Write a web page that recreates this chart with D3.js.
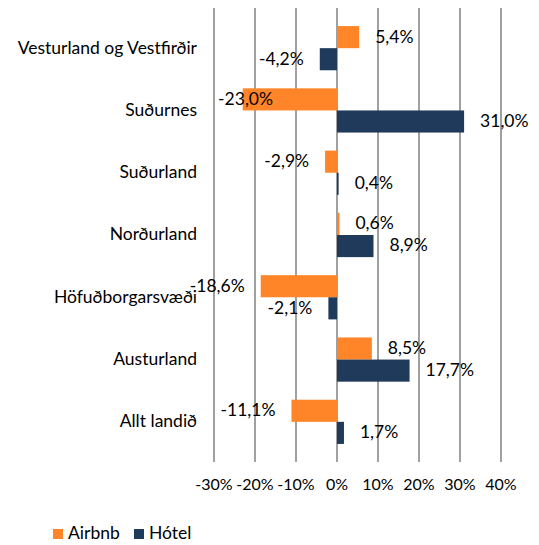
<!DOCTYPE html>
<html>
<head>
<meta charset="utf-8">
<script src="https://cdn.jsdelivr.net/npm/d3@7"></script>
<style>
  body { margin: 0; background: #fff; }
  text { font-family: Lato, "Open Sans", sans-serif; font-size: 17.5px; fill: #000; }
  .tick-label { font-size: 16px; }
</style>
</head>
<body>
<div id="chart"></div>
<script>
const regions = ["Vesturland og Vestfirðir", "Suðurnes", "Suðurland", "Norðurland",
  "Höfuðborgarsvæði", "Austurland", "Allt landið"];
const airbnb = [5.4, -23.0, -2.9, 0.6, -18.6, 8.5, -11.1];
const hotel = [-4.2, 31.0, 0.4, 8.9, -2.1, 17.7, 1.7];
const ticks = [-30, -20, -10, 0, 10, 20, 30, 40];
const seriesNames = ["Airbnb", "Hótel"];
const colors = ["#ff8528", "#1f3a5b"];

const width = 539, height = 545;
const margin = ({top: 8, right: 38, bottom: 83, left: 214});

const svg = d3.select("#chart")
  .append("svg")
  .attr("width", width)
  .attr("height", height);

let x = d3.scaleLinear()
  .domain([-30, 40])
  .range([margin.left, width - margin.right]);

let y = d3.scaleBand()
  .domain(regions)
  .range([margin.top, height - margin.bottom])
  .padding(0.29);

let sub = d3.scaleBand()
  .domain(seriesNames)
  .range([0, y.bandwidth()]);

const fmt = v => d3.format(".1f")(v).replace(".", ",").replace("\u2212", "-") + "%";

// gridlines
svg.append("g")
  .selectAll("line")
  .data(ticks)
  .join("line")
  .attr("x1", d => x(d))
  .attr("x2", d => x(d))
  .attr("y1", margin.top)
  .attr("y2", height - margin.bottom)
  .attr("stroke", "#a0a0a0")
  .attr("stroke-width", 2);

// tick labels
svg.append("g")
  .selectAll("text")
  .data(ticks)
  .join("text")
  .attr("class", "tick-label")
  .attr("x", d => x(d))
  .attr("y", height - margin.bottom + 24)
  .attr("dominant-baseline", "middle")
  .attr("text-anchor", "middle")
  .text(d => d + "%");

// category labels
svg.append("g")
  .selectAll("text")
  .data(regions)
  .join("text")
  .attr("x", margin.left - 17)
  .attr("y", d => y(d) + y.bandwidth() / 2 + 1)
  .attr("dominant-baseline", "middle")
  .attr("text-anchor", "end")
  .text(d => d);

const series = [airbnb, hotel];
series.forEach((vals, i) => {
  const rows = regions.map((r, j) => ({r, v: vals[j]}));
  const g = svg.append("g");

  g.selectAll("rect")
    .data(rows)
    .join("rect")
    .attr("x", d => x(Math.min(0, d.v)))
    .attr("width", d => Math.abs(x(d.v) - x(0)))
    .attr("y", d => y(d.r) + sub(seriesNames[i]))
    .attr("height", sub.bandwidth())
    .attr("fill", colors[i]);

  g.selectAll("text")
    .data(rows)
    .join("text")
    .attr("y", d => y(d.r) + sub(seriesNames[i]) + sub.bandwidth() / 2 + 1)
    .attr("dominant-baseline", "middle")
    .text(d => fmt(d.v))
    .each(function (d) {
      const t = d3.select(this);
      const w = this.getComputedTextLength();
      if (d.v >= 0) {
        t.attr("x", x(d.v) + 16);
      } else {
        let start = x(d.v) - 16 - w;
        if (start < margin.left - 25) start = x(-29);
        t.attr("x", start);
      }
    });
});

// legend
const legend = svg.append("g")
  .selectAll("g")
  .data(seriesNames)
  .join("g")
  .attr("transform", (d, i) => `translate(${53 + i * 81},529)`);

legend.append("rect")
  .attr("width", 10)
  .attr("height", 10)
  .attr("fill", (d, i) => colors[i]);

legend.append("text")
  .attr("x", 15)
  .attr("y", 6)
  .attr("dominant-baseline", "middle")
  .text(d => d);
</script>
</body>
</html>
